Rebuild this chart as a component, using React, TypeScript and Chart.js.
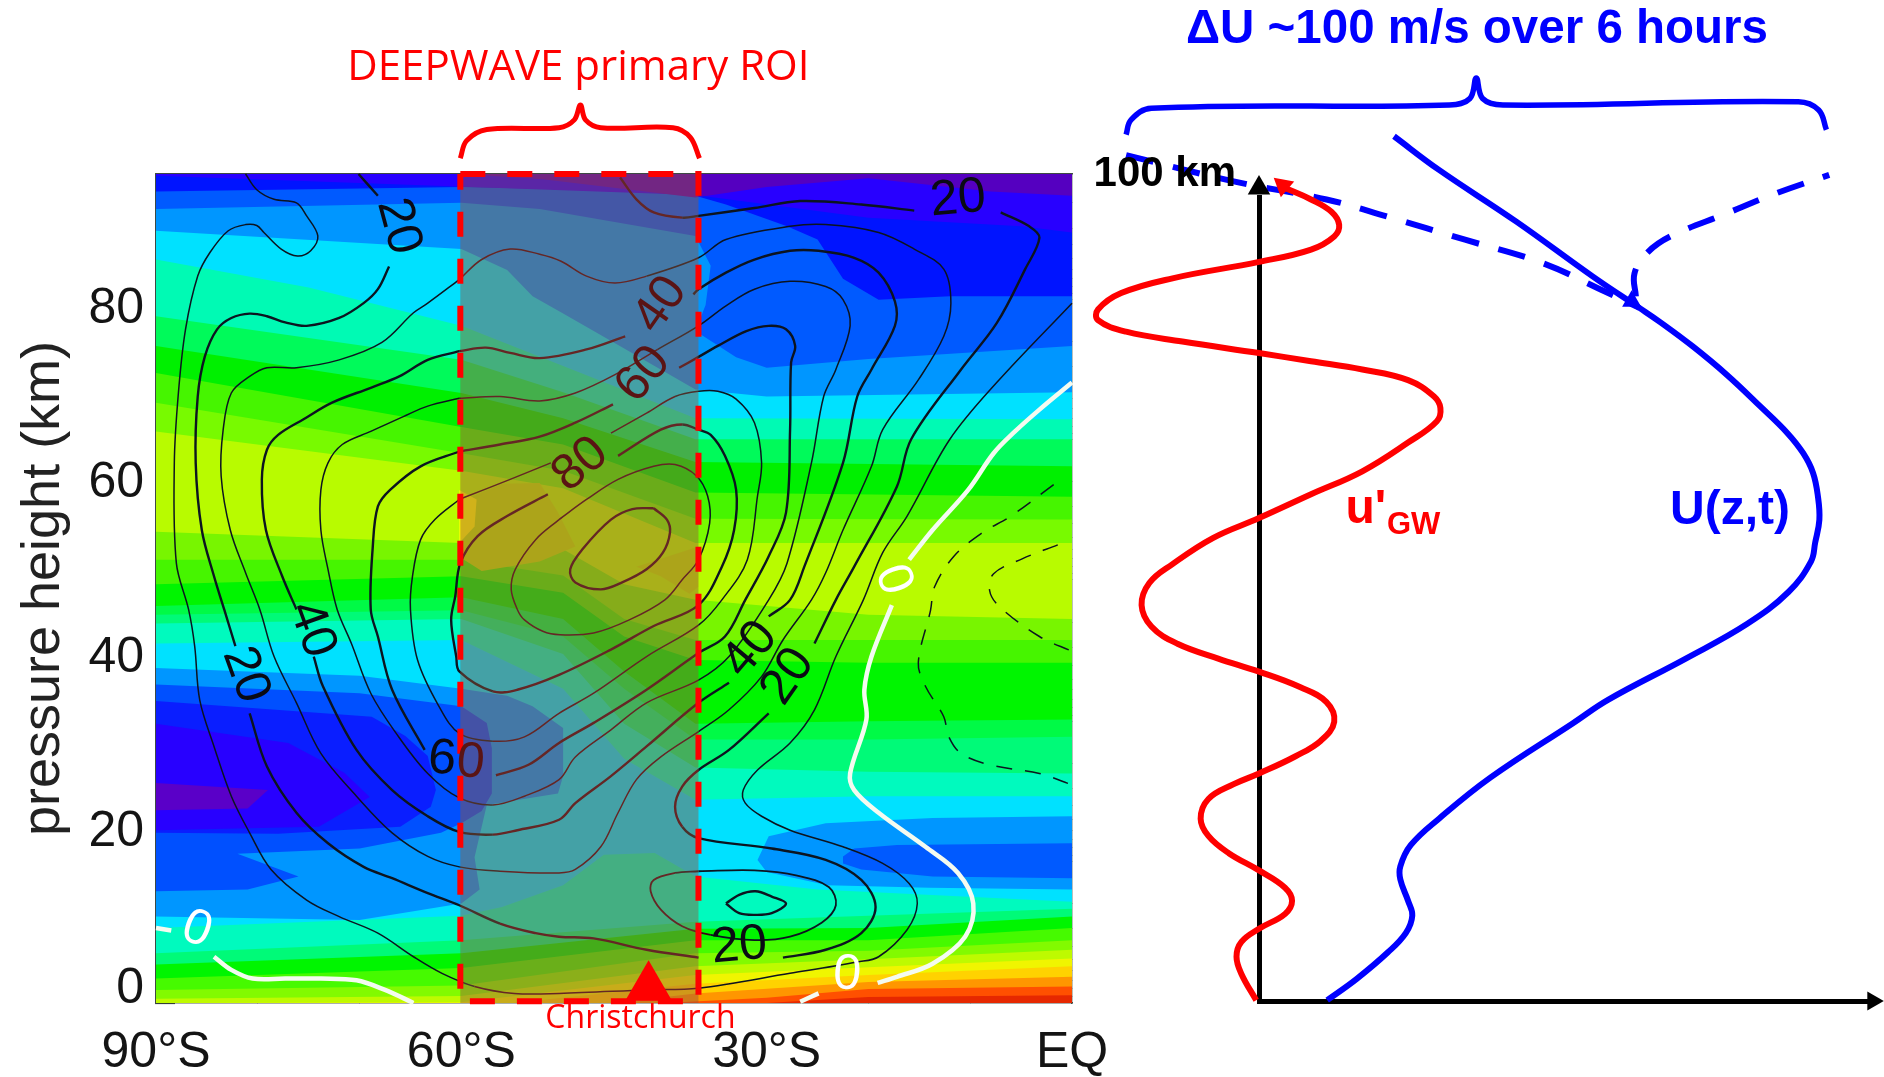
import React, { useEffect, useRef } from "react";
import { Chart, registerables } from "chart.js";

Chart.register(...registerables);

const W = 1884;
const H = 1077;
const SANS = "'Liberation Sans', sans-serif";
const CALIBRI = "'Open Sans', sans-serif";

// ---- axis values ----
const latTicks = [-90, -60, -30, 0];
const latLabels = ["90°S", "60°S", "30°S", "EQ"];
const latMinorTicks = [-80, -70, -50, -40, -20, -10];
const latTopMajor = [-60, -30];
const latTopMinor = [-80, -70, -50, -40, -20, -10];
const heightTicks = [0, 20, 40, 60, 80];
const heightMinorTicks = [5, 10, 15, 25, 30, 35, 45, 50, 55, 65, 70, 75, 85, 90];
const pressureMajor = [16.2, 32.3, 48.5, 64.6, 80.6];
const pressureMinor = [
  0.8, 1.7, 2.6, 3.7, 5, 6.5, 8.5, 11.4, 16.9, 17.8, 18.7, 19.8, 21, 22.6, 24.6, 27.5, 33, 33.9, 34.8, 35.9, 37.1, 38.7,
  40.7, 43.6, 49.2, 50, 50.9, 52, 53.3, 54.9, 56.9, 59.8, 65.3, 66.1, 67, 68.1, 69.3, 70.9, 72.9, 75.8, 81.3, 82.1, 83,
  84.1, 85.3, 86.9, 88.8, 91.7,
];

// ---- filled wind bands: boundaries as lat,height pairs, each covers everything above it ----
const baseColor = "#e62800";
const bandColors = [
  "#ff5000", "#ff9600", "#ffd200", "#f0f500", "#befa00", "#82fa00", "#46fa00", "#00f500", "#00fa78", "#00fabe", "#00e1ff",
  "#00fabe", "#00fa78", "#00fa46", "#00f500", "#46f500", "#78f500", "#b8fb00",
  "#78fa00", "#46f500", "#00f000", "#00fa5a", "#00fab4", "#00e1ff", "#0096ff", "#005aff", "#0014ff", "#2800ff", "#5500c0",
];
const bandEdges = [
  [-90, 0, -30, 0, -20, 0.7, 0, 0.9],
  [-90, 0, -40, 0, -30, 0.6, -20, 1.6, 0, 1.9],
  [-90, 0, -45, 0, -37, 1.1, -20, 2.4, 0, 3],
  [-90, 0, -55, 0, -37, 2.2, -20, 3.2, 0, 4.2],
  [-90, 0, -60, 0.1, -37, 3.2, -20, 4.1, 0, 5.1],
  [-90, 0.5, -60, 0.8, -37, 4.2, -20, 5, 0, 6.1],
  [-90, 1.5, -60, 2, -37, 5.7, -20, 6, 0, 7.2],
  [-90, 2.8, -60, 4, -37, 7.2, -20, 7.2, 0, 8.6],
  [-90, 4.4, -60, 5.7, -37, 8.5, -20, 8.6, 0, 9.9],
  [-90, 5.7, -60, 7.2, -37, 9.3, -20, 10, 0, 10.8],
  [-90, 8.6, -60, 10, -56, 11, -50, 13.5, -46, 17, -41, 17.2, -37, 14.5, -25, 13, 0, 11.6],
  [-90, 41.2, -60, 41.6, -50, 36, -44, 28, -37, 23.3, -20, 23.7, 0, 23.7],
  [-90, 43.5, -60, 44, -50, 40, -44, 32, -37, 27, -20, 26.5, 0, 26.3],
  [-90, 44.5, -60, 45, -50, 42, -44, 36, -37, 30.2, -20, 30.2, 0, 30.5],
  [-90, 45.5, -60, 46.5, -50, 44, -44, 38, -37, 32, -20, 32.3, 0, 32.5],
  [-90, 48, -60, 48.9, -50, 47, -44, 42, -37, 39.3, -20, 39, 0, 39],
  [-90, 50.8, -60, 50.8, -50, 49, -44, 44, -37, 41.6, -20, 41.6, 0, 41.6],
  [-90, 54, -60, 52.7, -50, 52, -44, 48, -37, 46.2, -20, 44.5, 0, 44],
  [-90, 65.5, -60, 61, -50, 59, -37, 52.7, 0, 52.7],
  [-90, 68.8, -60, 63, -50, 61, -37, 55.5, 0, 55.4],
  [-90, 72.2, -60, 66, -50, 64, -37, 58.5, 0, 58],
  [-90, 75.3, -60, 69.9, -50, 67, -37, 62, 0, 61.5],
  [-90, 78.7, -60, 73.7, -50, 70, -37, 64.6, 0, 64.6],
  [-90, 85.2, -75, 82, -60, 77.6, -50, 73, -37, 67, 0, 66.9],
  [-90, 88.5, -60, 86.4, -55.5, 84, -53, 81, -50, 79, -44, 75, -37, 70.3, -30, 69.5, 0, 70],
  [-90, 91, -60, 91.7, -52.3, 91, -37, 87.9, -35.5, 84.5, -36, 80, -37, 77, -33, 74, -30, 72.8, -20, 73.8, 0, 75.3],
  [-90, 93, -60, 93.5, -40, 93, -37, 92.5, -34, 91.5, -28, 89, -25, 87.5, -22.5, 83, -19, 80.6, -12, 81, 0, 81],
  [-90, 94.8, -37, 92.6, -20, 90, -5, 89, 0, 88.3],
  [-90, 95, -60, 95, -52, 94.4, -37, 92.3, -30, 93.5, -20, 94.5, -8, 93, 0, 92.5],
];

// ---- closed wind patches ----
const patchColors = ["#0096ff", "#0050ff", "#0a1eff", "#2800ff", "#5a00c8", "#0096ff", "#005aff", "#bee600", "#bee600", "#ffff00"];
const patchEdges = [
  [-90, 9.9, -70, 9.5, -60, 11.4, -58.2, 13, -58.7, 16.7, -57.5, 22.7, -50.5, 24, -50, 26, -50, 31.5, -53, 34, -55.5, 35.2, -60, 36, -70, 37.5, -90, 38.4],
  [-90, 12.8, -81, 13, -76, 14.5, -82, 17.1, -70, 17.7, -62, 19.5, -60, 20.6, -58, 22, -57, 24, -57, 29.2, -57.5, 32.1, -60, 34, -70, 35.5, -90, 36.5],
  [-90, 19.5, -78, 19.4, -66, 20.2, -63, 22.5, -62.5, 24.4, -63.3, 28.3, -65.5, 30.6, -68.8, 32.8, -90, 34.6],
  [-90, 19.8, -74, 20.2, -69, 23.6, -71.5, 26.4, -77, 29.8, -90, 32],
  [-90, 25.2, -79, 24.4, -81, 22.3, -90, 22.1],
  [-30.9, 16.4, -29.8, 19.1, -24.2, 20.6, -13.7, 21.2, 0, 21.4, 0, 13, -14, 13.2, -24, 13.5, -30, 15],
  [-22.5, 16.8, -21.4, 17.7, -17.2, 18.1, 0, 18.3, 0, 14.3, -13.7, 14.5, -20.7, 15.3, -22.5, 16],
  [-60, 57.5, -56, 59.5, -52.3, 59.6, -50.5, 56.2, -48.8, 52.3, -52.3, 50.6, -58, 49.5, -60, 51],
  [-42.8, 50, -36.7, 52.3, -36.7, 47.7, -37.6, 46.9, -40.4, 48.9],
  [-60.2, 58.8, -58.5, 57.7, -58.7, 54.6, -60.2, 52.7],
];

// ---- wind contours (lat,height pairs; NaN NaN lifts the pen under a label) ----
const contour10 = [
  -81.2, 95, -80.1, 93.2, -78.4, 92.1, -76.2, 91.7, -75.2, 90.2, -74.1, 87.9, -74.8, 86.2, -76.1, 85.6, -77.7, 86.4, -79.4, 88.3,
  -80.1, 89.1, -81.2, 89.2, -82.9, 88.5, -84.7, 86, -85.9, 83.3, -87.1, 77.2, -87.8, 69.9, -88.2, 61.9, -88, 50.4, -86.8, 45.1,
  -86.2, 40.9, -85.7, 34.7, -84.3, 29.4, -82.6, 23.7, -80.8, 19.5, -78.7, 15.3, -75.2, 11.8, -72, 9.9, -68.2, 8, -64.7, 5.3,
  -61.9, 3.4, -58.7, 1.9, -54.8, 1.1, -50.4, 1.1, -41.8, 1.5, -36.7, 1.7, -27.7, 3.4, -21.1, 4.7, -19, 5.3, -16.2, 8.4,
  -15.2, 11.4, -16, 13.7, -18.6, 16, -22.5, 17.9, -27.7, 19.8, -30.5, 21.4, -32.1, 22.9, -32.3, 24.4, -30.9, 26.7, -27.7, 29.8,
  -25.3, 33.6, -23.2, 39.7, -20.5, 46.2, -18.6, 51.6, -16.2, 55.8, -12, 64.6, -7.4, 71.1, 0, 80.2,
];
const contour20a = [
  -70.1, 95, -68.2, 92.5, NaN, NaN, -67.1, 84.4, -68.2, 81.8, -69.6, 80.2, -72, 78.5, -75.2, 77.6, -77.3, 78, -79.1, 78.7, -80.8, 79,
  -82.6, 78.5, -84, 77.2, -85.2, 74.1, -85.9, 69.5, -86.1, 61.9, -85.5, 54.2, -84.3, 48.9, -83.3, 45.1, -82.2, 40.9, NaN, NaN,
  -80.8, 33.2, -79.1, 27.1, -76.2, 21.8, -73.1, 18.3, -69.6, 15.6, -66.8, 14.3, -63.3, 12.6, -60.2, 11.2, -56.2, 9.1, -52.7, 8,
  -50.4, 7.6, -47, 7.4, -41.8, 6.1, -36.7, 5.2, NaN, NaN, -28.4, 5.2, -24.2, 6.1, -20.7, 8, -19.3, 11, -20.7, 14.1, -24.2, 16.4,
  -29.5, 17.7, -36.7, 18.9, -38.3, 20.2, -39, 22.5, -38.3, 24.8, -36.7, 26.7, -33.7, 29, -29.8, 33.2, NaN, NaN, -25.3, 41.2,
  -23.2, 46.2, -21.4, 50, -17.2, 59.2, -15.8, 64.6, -10.9, 72.6, -7.4, 77.9, -4.6, 84.1, -3.2, 87.7, -4.2, 89, -7, 90.6, NaN, NaN,
  -15.5, 90.8, -20.7, 91.5, -26.7, 91.9, -31.2, 91.1, -36.7, 90.2, -38.3, 90, -41.1, 90.6, -42.8, 92.1, -44.4, 94.6,
];
const contour30 = [
  -60.2, 82.9, -63.3, 80.2, -64.7, 79.1, -67.8, 75.7, -72, 73.7, -76.2, 72.8, -79.1, 72.8, -80.8, 71.8, -82.6, 69.9, -83.4, 65.7,
  -83.6, 60.4, -82.7, 54.2, -81.2, 49.3, -79.8, 45.1, -78.4, 39.7, -76.2, 34.4, -73.8, 28.6, -70.3, 23.7, -66.8, 19.5, -63.3, 16.8,
  -60.2, 15.6, -56.2, 15.1, -50.4, 14.9, -48.8, 15.3, -46.3, 17.9, -44.6, 21.8, -42.8, 25.6, -40.4, 28.2, -36.7, 31.1, -33.7, 33.6,
  -30.5, 37.4, -28.4, 41.6, -25.6, 46.2, -24.2, 49.3, -22.5, 54.2, -19.7, 61.5, -18.6, 65.7, -15.1, 71.4, -12.6, 76.4, -11.9, 80.2,
  -12.6, 84.1, -15.5, 86.4, -19, 88.3, -24.2, 89.2, -27.7, 89, -34, 87.5, -36.7, 85.4, -41.8, 83.3, -44.9, 82.5, -47.7, 83.3,
  -50.2, 85, -52.3, 85.8, -55.2, 86.4, -58, 85.2, -60.2, 82.9,
];
const contour40 = [
  -60.2, 74.7, -63.3, 73.7, -66.1, 71.8, -68.9, 70.5, -72.7, 68.8, -75.5, 66.9, -78, 65.1, -79.1, 63.4, -79.6, 60, -79.2, 54.2,
  -77.6, 48.9, -76.2, 45.1, NaN, NaN, -74.5, 39.7, -73.6, 36.3, -70.3, 29, -66.8, 24.4, -63.3, 21.4, -60.2, 19.6, -56.9, 19.3,
  -54.5, 19.8, -50.4, 21, -48.8, 22.9, -45.3, 26, -41.8, 29.4, -36.7, 34.4, -33.7, 36.7, NaN, NaN, -29.8, 44.3, -27.7, 46.2,
  -26.3, 50, -22.5, 61.9, -21.1, 69.5, -19.7, 72.6, -17.4, 77.6, -17.4, 80.4, -19, 83.7, -21.4, 85.4, -24.9, 86.2, -27.7, 86.2,
  -31.2, 85.2, -34, 83.7, -36.7, 81.8, -37.2, 81.2, NaN, NaN, -43.9, 76.4, -47.7, 74.9, -52.3, 73.9, -55.2, 74.5, -57.6, 75.1, -60.2, 74.7,
];
const contour50 = [
  -60.2, 69.3, -63.3, 68.4, -65.7, 67.2, -68.9, 65.5, -71.7, 64, -73.1, 61.9, -73.8, 58.8, -73.8, 54.2, -73.1, 49.7, -72.2, 45.1,
  -70.8, 41.2, -68.9, 35.5, -66.4, 30.9, -63.3, 26.3, -60.2, 23.5, -56.9, 22.7, -53.8, 23.7, -50.4, 25.6, -48.8, 28.2, -45.3, 31.3,
  -41.8, 34.4, -36.7, 37, -33.7, 39.7, -29.8, 46.2, -28, 50.4, -25.6, 61.9, -24.4, 69.5, -23.2, 72.6, -21.8, 77.6, -22.5, 80.6,
  -24.2, 82.1, -27.7, 82.7, -31.2, 81.8, -34, 79.9, -36.7, 77.6, -40.7, 74.9, -44.9, 72, -48.8, 69.9, -52.3, 69, -56.2, 69.5, -60.2, 69.3,
];
const contour60 = [
  -60.2, 63.2, -64, 61.5, -67, 58.8, -68.2, 56.9, -68.7, 52.3, -68.9, 45.1, -68.2, 42, -66.8, 35.9, -63.6, 29, NaN, NaN,
  -56.6, 26.1, -53.4, 27.3, -50.4, 29.8, -47, 32.1, -41.8, 35.9, -36.7, 40.1, -34.1, 42, -32.1, 46.2, -29.8, 51.2, -28.1, 56.2,
  -27.7, 65.7, -27.6, 73.4, -27.2, 75.3, -28.1, 77.2, -29.8, 77.6, -32, 77, -34.8, 75.3, -36.9, 73.9, -38.6, 72.8, NaN, NaN,
  -45.1, 68.6, -48.8, 66.5, -52.3, 64.9, -56.2, 64, -60.2, 63.2,
];
const contour70 = [
  -60.2, 57.7, -62.6, 55.4, -64, 53.1, -64.8, 48.9, -65, 45.1, -64.3, 39.3, -62.2, 34, -60.2, 30.9, -56.9, 30, -53.8, 30.5,
  -50.4, 33.2, -47, 35.5, -41.8, 39.7, -36.7, 43.3, -34.4, 46.2, -31.9, 50.8, -30.9, 58.1, -30.5, 61.9, -31.2, 66.5, -33, 69.2,
  -34.8, 70.1, -36.7, 70.1, -39, 69.5, -41.8, 67.6, -45.3, 65.3, NaN, NaN, -51.2, 61.9, -55.2, 60, -59.8, 57.9, -60.2, 57.7,
];
const contour80 = [
  -51.5, 58.3, -55.5, 55.8, -58.4, 53.5, -60.1, 50.4, -60.6, 46.6, -61, 43.9, -60.5, 39.7, -60.2, 38, -56.9, 35.7, -54.5, 35.9,
  -50.4, 37.6, -45.3, 40.5, -41.1, 43.2, -36.7, 45.6, -34.4, 50, -33.2, 54.2, -33, 58.8, -34.1, 62.7, -35.5, 65.1, -36.7, 65.7,
  -38.3, 66.3, -40.4, 65.7, -44.6, 62.7,
];
const contour90 = [
  -50.4, 55.4, -52.7, 53.1, -54.7, 49.7, -55.1, 47.4, -54.5, 45.1, -53.8, 43.9, -52, 42.6, -50.3, 42.2, -47, 42.4, -43.5, 43.9,
  -40, 46.2, -38.3, 48.5, -36.7, 50.8, -35.6, 55, -35.8, 58.1, -36.9, 60.4, -39, 61.7, -41.1, 61.5, -44.6, 60, -47.7, 57.7, -50.4, 55.4,
];
const contour100 = [
  -41.1, 56.7, -39.8, 55.4, -39.5, 53.9, -40.2, 51.6, -41.8, 49.7, -44.2, 48.2, -46.3, 47.4, -48.8, 48.2, -49.3, 49.7, -48.1, 52,
  -45.3, 55.4, -43.2, 56.6, -41.1, 56.7,
];
const contourLow30 = [
  -36.7, 15.1, -39, 14.9, -41.1, 14.1, -41.4, 12.8, -40.4, 10.7, -38.3, 8.8, -35.5, 7.8, -31.2, 7.2, -27.7, 7.6, -24.6, 9.2,
  -23.2, 11.2, -23.9, 13.3, -27, 14.6, -31.2, 15.2, -36.7, 15.1,
];
const contourLow40 = [-34, 11.4, -32.7, 12.4, -31.1, 12.8, -29.5, 12.2, -28.1, 11.4, -29.5, 10.3, -31.1, 10.1, -32.7, 10.3, -34, 11.4];
const zeroRight = [
  0, 71.1, -3.2, 68, -5.6, 65.5, -7.7, 63, -10.2, 58.8, -13.7, 54.2, -16, 50.8, NaN, NaN, -17.7, 45.6, -19.7, 39.7, -20.4, 35.9,
  -20.2, 32.5, -21.8, 26.3, -21.4, 24.4, -19, 21.8, -14.4, 17.9, -11.2, 14.9, -9.7, 11.4, -10.5, 7.6, -13.7, 4.5, -17.2, 3, -19.1, 2.3,
  NaN, NaN, -24.9, 1.1, -26.7, 0.15,
];
const zeroLeft = [-90, 8.6, -88.5, 8.3, NaN, NaN, -84.3, 5.3, -82.6, 3.8, -80.5, 2.8, -77.3, 2.8, -73.8, 2.8, -70.3, 2.6, -67.5, 1.5, -64.7, 0];
const negativeOuter = [
  -1.8, 59.4, -6, 55.8, -8.8, 53.9, -11.6, 51.2, -13.5, 47.7, -13.9, 45, -15.1, 39, -14.4, 36.3, -12.6, 32.8, -12.1, 30.5, -10.9, 28.6,
  -8.1, 27.3, -3.2, 26.3, 0, 25,
];
const negativeInner = [-1.4, 52.5, -4.9, 50.9, -7.7, 49.2, -8.1, 47.3, -7.2, 45.5, -3.2, 42, 0, 40.3];

// ---- region of interest ----
const roiBounds = [-60.1, -36.7];
const roiBox = [-60.1, 95, -36.7, 95, -36.7, 0.2, -60.1, 0.2, -60.1, 95];
const roiShade = [-60.1, 95, -36.7, 95, -36.7, 0, -60.1, 0];
const roiBracket = [
  -60.1, 96.8, -59.5, 98.8, -57.5, 100.1, -50.4, 100.3, -48.9, 101.2, -48.3, 102.9, -47.8, 101.2, -46.3, 100.3, -39.2, 100.3, -37.5, 99.2, -36.6, 96.8,
];
const christchurch = [-41.6, 1.8];

// ---- right panel: wind speed (m/s) against altitude (km) ----
const gravityWave = [
  -0.4, 0.1, -2.5, 3.3, -3.2, 5.4, -2.5, 7.2, 0, 8.8, 3.7, 10.6, 4.7, 12.2, 3.7, 13.8, 0, 15.9, -4.3, 18, -7.2, 20.1, -8.3, 22.2,
  -7.2, 24.6, -3.6, 26.4, 0, 27.7, 5.2, 29.8, 8.8, 31.7, 10.7, 34, 9.6, 36.4, 5.9, 38.2, 0, 40.1, -5.8, 41.7, -11.6, 43.5, -15.3, 45.6,
  -16.7, 48.2, -15.6, 50.9, -12.3, 53.2, -6.5, 56.4, 0, 58.8, 7.4, 61.7, 14.7, 64.5, 21.2, 68, 25.3, 70.6, 25.8, 72.2, 24.9, 73.6,
  21.2, 75.6, 14.7, 76.9, 7.4, 77.9, 0, 78.9, -10.9, 80.3, -18.9, 81.5, -22.9, 82.9, -22.9, 84.2, -19.6, 86.2, -12.3, 88, 0, 90,
  7.4, 91.5, 10.7, 93.1, 11.4, 94.5, 10.3, 96.1, 7.4, 97.6, 3.7, 99,
];
const meanWind = [
  9.7, 0.1, 13.9, 2.7, 18.3, 5.9, 20.9, 8.3, 21.8, 10.4, 21.2, 12.2, 20.1, 14.8, 20.1, 16.4, 21.6, 19, 25.6, 22.2, 32.9, 27.2,
  44.6, 33.8, 49.7, 36.7, 60.7, 41.7, 69.4, 45.9, 75.3, 49.8, 78.5, 53.5, 79.1, 55.8, 79.7, 58.6, 79.5, 61.4, 78.8, 64.3, 77.4, 66.7,
  75.1, 69.2, 71.3, 72.4, 66.6, 76.2, 61.7, 79.7, 57, 82.7, 54.1, 84.4, 47.5, 88.2, 36.6, 94.9, 25.6, 101.2, 19.2, 105.3,
];
const windEarly = [-18.9, 103, -3.6, 99.8, 9.6, 97.6, 18.3, 95.5, 29.3, 92.7, 40.2, 89.9, 48.2, 86.8, 54.1, 84.4];
const windLate = [53.6, 85.8, 53.4, 88.6, 55.2, 91.1, 58.5, 93.1, 66.5, 95.9, 73.1, 98.2, 81.1, 100.6];
const windBracket = [
  -18.9, 105.5, -18.2, 107.3, -15.3, 108.7, 27.1, 109.1, 30, 109.9, 30.9, 112.4, 31.8, 109.9, 34.7, 109.1, 76.7, 109.5, 79.6, 108.5, 80.7, 106.1,
];

// ---- text ----
const contourLabels: any[] = [
  ["20", -66.2, 89, 75, "#0a0a14"],
  ["20", -11.2, 92.1, -5, "#0a0a14"],
  ["40", -40.4, 80, -55, "#5a1414"],
  ["60", -42.1, 72, -50, "#5a1414"],
  ["80", -48.3, 61.7, -40, "#5a1414"],
  ["6", -61.9, 27.9, 5, "#0a0a14"],
  ["0", -59.1, 27.5, 5, "#5a1414"],
  ["40", -74.7, 42.8, 70, "#0a0a14"],
  ["20", -81.2, 37.6, 70, "#0a0a14"],
  ["40", -31.6, 40.5, -50, "#0a0a14"],
  ["20", -27.9, 37.4, -55, "#0a0a14"],
  ["20", -32.7, 6.5, -5, "#0a0a14"],
  ["0", -86, 8.4, 20, "#ffffff"],
  ["0", -17.6, 48.5, 70, "#ffffff"],
  ["0", -22.1, 3.2, 5, "#ffffff"],
];

const pts = (flat: number[]) => {
  const out: any[] = [];
  for (let i = 0; i < flat.length; i += 2) out.push({ x: flat[i], y: flat[i + 1] });
  return out;
};

const makeDatasets = () => {
  const left = { xAxisID: "lat", yAxisID: "height" };
  const right = { xAxisID: "wind", yAxisID: "alt" };
  const common = { type: "scatter", showLine: true, pointRadius: 0, clip: false };
  const area = (flat: number[], color: string) => ({
    ...common, ...left, data: pts(flat), fill: "shape", backgroundColor: color, borderWidth: 0, borderColor: "transparent", tension: 0,
  });
  const inRoi = (c: any) => c.p0.parsed.x > roiBounds[0] && c.p0.parsed.x < roiBounds[1];
  const contour = (flat: number[], width: number, color = "#0c1420", dash: number[] = []) => ({
    ...common, ...left, data: pts(flat), borderColor: color, borderWidth: width, borderDash: dash, tension: 0.35, fill: false,
    segment: { borderColor: (c: any) => (color === "#0c1420" && inRoi(c) ? "#3c0014" : undefined) },
  });
  const plain = (flat: number[], width: number, color: string, dash: number[] = []) => ({
    ...common, ...left, data: pts(flat), borderColor: color, borderWidth: width, borderDash: dash, tension: 0.35, fill: false,
  });
  const curve = (flat: number[], color: string, width: number, dash: number[] = []) => ({
    ...common, ...right, data: pts(flat), borderColor: color, borderWidth: width, borderDash: dash, tension: 0.4, fill: false,
  });
  const head = (flat: number[], color: string, radius: number, rotation: number, ax = right) => ({
    ...common, ...ax, showLine: false, data: pts(flat), pointStyle: "triangle", pointRadius: radius, pointRotation: rotation,
    pointBackgroundColor: color, pointBorderColor: color, pointBorderWidth: 0,
  });
  const sets: any[] = [
    area([-90, 0, 0, 0, 0, 95, -90, 95], baseColor),
    ...bandEdges.map((edge, i) => area([...edge, 0, 95, -90, 95], bandColors[i])),
    ...patchEdges.map((edge, i) => area(edge, patchColors[i])),
    contour(contour10, 1.5),
    contour(contour20a, 2.4),
    contour(contour30, 1.5),
    contour(contour40, 2.4),
    contour(contour50, 1.5),
    contour(contour60, 2.4),
    contour(contour70, 1.5),
    contour(contour80, 2.4),
    contour(contour90, 1.5),
    contour(contour100, 2.4),
    contour(contourLow30, 1.8),
    contour(contourLow40, 2.4),
    contour(negativeOuter, 1.5, "#0c1420", [16, 13]),
    contour(negativeInner, 1.5, "#0c1420", [16, 13]),
    plain(zeroRight, 4.5, "#f4fbf0"),
    plain(zeroLeft, 4.5, "#f4fbf0"),
    area(roiShade, "rgba(150,85,58,0.45)"),
    { ...plain(roiBox, 6, "#ff0000", [25, 22]), tension: 0 },
    plain(roiBracket, 5, "#ff0000"),
    head(christchurch, "#ff0000", 27, 0, left),
    curve(windEarly, "#0000ff", 6, [28, 20]),
    curve(windLate, "#0000ff", 6, [28, 20]),
    curve(windBracket, "#0000ff", 5.5),
    curve(meanWind, "#0000ff", 6),
    head([53, 85.2], "#0000ff", 11, 120),
    curve(gravityWave, "#ff0000", 6),
    head([3.4, 99.3], "#ff0000", 12, -50),
    head([0, 99], "#000000", 13, 0),
    head([87.3, 0], "#000000", 11, 90),
  ];
  return sets.map((s, i) => ({ ...s, order: -i }));
};

const tickList = (values: number[]) => (scale: any) => {
  scale.ticks = values.map((value) => ({ value }));
};
const rangeOf = (min: number, max: number) => (scale: any) => {
  scale.min = min;
  scale.max = max;
};
const frame = { display: true, color: "#3e4a44", width: 1.2 };
const tickOnly = (axis: string, position: string, values: number[], min: number, max: number, length: number) => ({
  type: "linear", axis, position, min, max, bounds: "data",
  afterBuildTicks: tickList(values),
  border: frame,
  grid: { display: true, drawOnChartArea: false, drawTicks: true, tickLength: -length, tickColor: "#2c3630", tickWidth: 1.2 },
  ticks: { display: false, autoSkip: false },
});

const boxes: Record<string, number[]> = {
  // left, top, right, bottom in canvas pixels
  lat: [156, 1003, 1072, 1077],
  latMinor: [156, 1003, 1072, 1077],
  latTop: [156, 100, 1072, 174],
  latTopMinor: [156, 100, 1072, 174],
  height: [12, 174, 156, 1003],
  heightMinor: [12, 174, 156, 1003],
  pressure: [1072, 174, 1150, 1003],
  pressureMinor: [1072, 174, 1150, 1003],
  wind: [1259, 1001, 1870, 1060],
  alt: [1160, 197, 1259, 1001],
};

const placeAxes = {
  id: "placeAxes",
  afterLayout(chart: any) {
    chart.chartArea = { left: 0, top: 0, right: W, bottom: H, width: W, height: H };
    Object.keys(boxes).forEach((id) => {
      const s = chart.scales[id];
      const [l, t, r, b] = boxes[id];
      s.left = l; s.top = t; s.right = r; s.bottom = b;
      s.width = r - l; s.height = b - t;
      s.configure();
    });
  },
};

const drawText = (chart: any, xId: string, yId: string, text: string, x: number, y: number, font: string, color: string, rot = 0) => {
  const { ctx, scales } = chart;
  ctx.save();
  ctx.translate(scales[xId].getPixelForValue(x), scales[yId].getPixelForValue(y));
  ctx.rotate((rot * Math.PI) / 180);
  ctx.font = font;
  ctx.fillStyle = color;
  ctx.textAlign = "center";
  ctx.textBaseline = "middle";
  ctx.fillText(text, 0, 0);
  ctx.restore();
};

const annotations = {
  id: "annotations",
  afterDatasetsDraw(chart: any) {
    contourLabels.forEach(([t, x, y, r, c]) => drawText(chart, "lat", "height", t, x, y, `50px ${SANS}`, c, r));
    drawText(chart, "lat", "height", "DEEPWAVE primary ROI", -48.5, 107.2, `42px ${CALIBRI}`, "#ff0000");
    drawText(chart, "lat", "height", "Christchurch", -42.4, -1.8, `32px ${CALIBRI}`, "#ff0000");
    drawText(chart, "wind", "alt", "ΔU ~100 m/s over 6 hours", 31, 118.3, `bold 47.5px ${SANS}`, "#0000ff");
    drawText(chart, "wind", "alt", "100 km", -13.4, 100.6, `bold 42px ${SANS}`, "#000000");
    drawText(chart, "wind", "alt", "u'", 15.2, 59.8, `bold 48px ${SANS}`, "#ff0000");
    drawText(chart, "wind", "alt", "GW", 22, 57.9, `bold 31px ${SANS}`, "#ff0000");
    drawText(chart, "wind", "alt", "U(z,t)", 67, 59.7, `bold 48px ${SANS}`, "#0000ff");
  },
};

export default function App() {
  const ref = useRef<HTMLCanvasElement | null>(null);
  useEffect(() => {
    const chart = new Chart(ref.current as any, {
      type: "scatter",
      data: { datasets: makeDatasets() as any },
      plugins: [placeAxes, annotations],
      options: {
        animation: false,
        responsive: false,
        events: [],
        plugins: { legend: { display: false }, tooltip: { enabled: false } },
        scales: {
          lat: {
            ...tickOnly("x", "bottom", latTicks, -90, 0, 0),
            grid: { display: false },
            ticks: {
              display: true, autoSkip: false, maxRotation: 0, minRotation: 0, padding: 12, color: "#141414",
              font: { family: SANS, size: 50 },
              callback: (v: number) => latLabels[latTicks.indexOf(v)],
            },
          },
          latMinor: tickOnly("x", "bottom", latMinorTicks, -90, 0, 10),
          latTop: tickOnly("x", "top", latTopMajor, -90, 0, 19),
          latTopMinor: tickOnly("x", "top", latTopMinor, -90, 0, 10),
          height: {
            ...tickOnly("y", "left", heightTicks, 0, 95, 19),
            title: {
              display: true, text: "pressure height (km)", color: "#222222", padding: 0,
              font: { family: SANS, size: 54 },
            },
            ticks: {
              display: true, autoSkip: false, padding: 31, color: "#141414", labelOffset: 4,
              font: (c: any) => ({ family: SANS, size: 50, lineHeight: c.tick && c.tick.value === 0 ? "36px" : 1.2 }),
              callback: (v: number) => (v === 0 ? ["0", ""] : String(v)),
            },
          },
          heightMinor: tickOnly("y", "left", heightMinorTicks, 0, 95, 9),
          pressure: tickOnly("y", "right", pressureMajor, 0, 95, 19),
          pressureMinor: tickOnly("y", "right", pressureMinor, 0, 95, 9),
          wind: {
            type: "linear", axis: "x", position: "bottom", bounds: "data",
            afterDataLimits: rangeOf(0, 86.9),
            afterBuildTicks: tickList([]),
            border: { display: true, color: "#000000", width: 5 },
            grid: { display: false },
            ticks: { display: false },
          },
          alt: {
            type: "linear", axis: "y", position: "left", bounds: "data",
            afterDataLimits: rangeOf(0, 97.9),
            afterBuildTicks: tickList([]),
            border: { display: true, color: "#000000", width: 5 },
            grid: { display: false },
            ticks: { display: false },
          },
        },
      } as any,
    });
    return () => chart.destroy();
  }, []);
  return <canvas ref={ref} width={W} height={H} style={{ position: "absolute", left: 0, top: 0, display: "block" }} />;
}
